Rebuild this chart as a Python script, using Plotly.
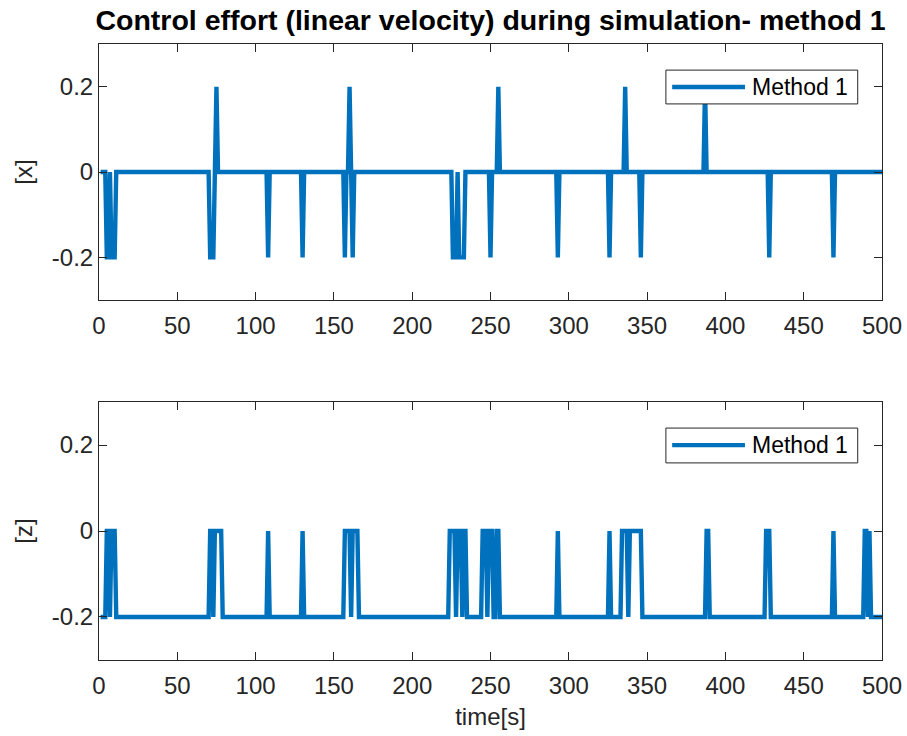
import numpy as np
import plotly.graph_objects as go

# Time base (1 s samples)
t = np.arange(1, 501)

# Linear velocity command, x axis: default 0, with spikes
x_neg_times = [5, 6, 8, 9, 10, 71, 72, 73, 108, 130, 157, 162,
               226, 227, 228, 230, 231, 232, 233, 250, 293, 326, 346, 428, 469]
x_pos_times = [75, 160, 255, 336, 387]
x_level, x_neg, x_pos = 0.0, -0.2, 0.2

# Linear velocity command, z axis: default -0.2, rises to 0 at these times
z_zero_times = [5, 6, 8, 9, 10, 71, 72, 74, 75, 76, 77, 78, 108, 130,
                157, 158, 159, 160, 162, 163, 164, 165,
                224, 225, 226, 227, 229, 230, 231, 233, 234,
                245, 246, 247, 249, 250, 251, 254, 255, 293, 326,
                334, 335, 336, 337, 339, 340, 341, 342, 343, 344, 345, 346,
                388, 389, 426, 427, 428, 469, 489, 490, 492]
z_level, z_high = -0.2, 0.0

y_ticks = [-0.2, 0, 0.2]
y_ticktext = ["-0.2", "0", "0.2"]
x_ticks = list(range(0, 501, 50))

ux = np.full(t.shape, x_level)
ux[np.isin(t, x_neg_times)] = x_neg
ux[np.isin(t, x_pos_times)] = x_pos

uz = np.full(t.shape, z_level)
uz[np.isin(t, z_zero_times)] = z_high

BLUE = "#0072BD"
AX = "#262626"
FONT = "Liberation Sans, Arial, Helvetica, sans-serif"
LW = 4.4

fig = go.Figure()
fig.add_trace(go.Scatter(x=t, y=ux, mode="lines", name="Method 1",
                         line=dict(color=BLUE, width=LW), xaxis="x", yaxis="y",
                         showlegend=False))
fig.add_trace(go.Scatter(x=t, y=uz, mode="lines", name="Method 1",
                         line=dict(color=BLUE, width=LW), xaxis="x2", yaxis="y2",
                         showlegend=False))

axis_common = dict(
    showgrid=False, zeroline=False, showline=True, linecolor=AX, linewidth=1,
    mirror="allticks", ticks="inside", ticklen=8, tickcolor=AX, tickwidth=1,
    tickfont=dict(family=FONT, size=24, color=AX), automargin=False,
)

fig.update_layout(
    width=907, height=736,
    margin=dict(l=99, r=25, t=44, b=76, autoexpand=False),
    paper_bgcolor="white", plot_bgcolor="white",
    font=dict(family=FONT, color=AX),
    title=dict(text="<b>Control effort (linear velocity) during simulation- method 1</b>",
               x=0.5, xref="paper", y=1 - 20 / 736, yref="container",
               xanchor="center", yanchor="middle",
               font=dict(family=FONT, size=28.5, color="black")),
    xaxis=dict(domain=[0, 1], anchor="y", range=[0, 500], tickvals=x_ticks,
               ticklabelstandoff=4, **axis_common),
    yaxis=dict(domain=[0.5844, 1], anchor="x", range=[-0.3, 0.3],
               tickvals=y_ticks, ticktext=y_ticktext,
               title=dict(text="[x]", font=dict(family=FONT, size=24, color=AX), standoff=12),
               **axis_common),
    xaxis2=dict(domain=[0, 1], anchor="y2", range=[0, 500], tickvals=x_ticks,
                ticklabelstandoff=4,
                title=dict(text="time[s]", font=dict(family=FONT, size=24, color=AX), standoff=10),
                **axis_common),
    yaxis2=dict(domain=[0, 0.4188], anchor="x2", range=[-0.3, 0.3],
                tickvals=y_ticks, ticktext=y_ticktext,
                title=dict(text="[z]", font=dict(family=FONT, size=24, color=AX), standoff=12),
                **axis_common),
)

# Legend boxes drawn inside each axes
shapes, annotations = [], []
for xr, yr, ytop, ybot, yline in [("x domain", "y domain", 0.898, 0.766, 0.832),
                                  ("x2 domain", "y2 domain", 0.899, 0.764, 0.833)]:
    shapes.append(dict(type="rect", xref=xr, yref=yr, x0=0.724, x1=0.969, y0=ybot, y1=ytop,
                       line=dict(color=AX, width=1), fillcolor="white", layer="above"))
    shapes.append(dict(type="line", xref=xr, yref=yr, x0=0.732, x1=0.825, y0=yline, y1=yline,
                       line=dict(color=BLUE, width=LW), layer="above"))
    annotations.append(dict(text="Method 1", xref=xr, yref=yr, x=0.831, y=yline,
                            xanchor="left", yanchor="middle", showarrow=False,
                            font=dict(family=FONT, size=23, color="black")))
fig.update_layout(shapes=shapes, annotations=annotations)

fig.write_html("out.html")
